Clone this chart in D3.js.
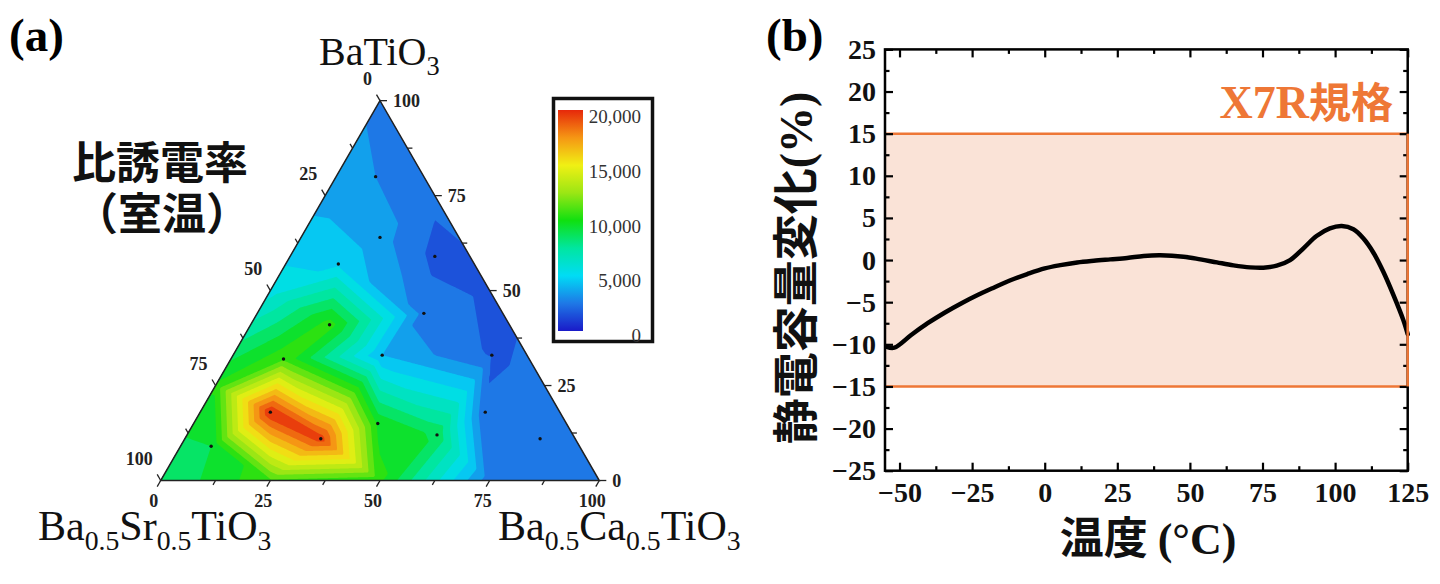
<!DOCTYPE html>
<html>
<head>
<meta charset="utf-8">
<script src="https://cdn.jsdelivr.net/npm/d3@7"></script>
<style>
  body { margin: 0; background: #fff; }
  svg { display: block; }
</style>
</head>
<body>
<svg id="fig" width="1440" height="584"></svg>
<script>
// ---------- (a) ternary map: composition (%) and permittivity at room temperature
var ptBT  = [80, 64, 57, 59, 41, 44, 33, 32, 33, 18, 15, 11, 12, 18, 11, 9];
var ptBST = [11, 18, 31, 8, 41, 18, 33, 56, 8, 66, 43, 58, 31, 17, 8, 84];
var ptBCT = [9, 18, 12, 33, 18, 38, 34, 12, 59, 16, 42, 31, 57, 65, 81, 7];
var ptEps = [3000, 3400, 4800, 1700, 10500, 2600, 4000, 10800, 1900, 20000, 9800, 19600, 8800, 2100, 2300, 9000];

// values read along the triangle edges
var edgeBT  = [100, 75, 50, 25, 0, 0, 0, 0, 0, 25, 50, 75];
var edgeBST = [0, 25, 50, 75, 100, 75, 50, 25, 0, 0, 0, 0];
var edgeBCT = [0, 0, 0, 0, 0, 25, 50, 75, 100, 75, 50, 25];
var edgeEps = [2800, 3600, 5500, 10200, 8000, 10800, 10200, 2400, 2400, 2200, 1800, 2200];

// colour bar
var cbValues = [0, 2500, 5000, 7500, 10000, 12500, 15000, 17500, 20000];
var cbColors = ["#1a1ac8", "#1e78e6", "#00dcf5", "#00e6a0", "#10e010", "#9be614", "#f0f014", "#f59614", "#e6280a"];
var cbTicks = [0, 5000, 10000, 15000, 20000];
var ternTicks = [0, 25, 50, 75, 100];

// ---------- (b) capacitance change vs temperature
var tempC = [-54.4, -51.8, -46, -40.3, -34.5, -28.8, -23.1, -17.4, -11.8, -6, 0, 5.4, 11.2, 16.9, 22.6, 28.4,
             34.1, 39.8, 47.8, 53.6, 59.3, 65, 70.7, 75.3, 79.9, 84.5, 89.1, 93.6, 98.2, 102.3, 106.3, 109.7,
             113.2, 116.6, 120.1, 123.5, 125];
var capChange = [-10.3, -10.4, -8.9, -7.5, -6.25, -5.15, -4.15, -3.25, -2.4, -1.66, -0.99, -0.6, -0.28, -0.08, 0.08, 0.24,
                 0.48, 0.56, 0.4, 0.08, -0.28, -0.63, -0.87, -0.91, -0.67, 0, 1.39, 2.85, 3.76, 4.04, 3.65, 2.58,
                 0.87, -1.39, -4.16, -7.13, -8.8];
var x7rLimits = [-15, 15];

var serif = "'Liberation Serif','Times New Roman',serif";
var cjk = "'Noto Sans CJK JP','Noto Sans CJK SC',sans-serif";

var svg = d3.select("#fig");

// ================= panel (a) =================
var L = 438.6, H = L * Math.sqrt(3) / 2, BL = [160.7, 480.5];
var x0 = BL[0], y0 = BL[1] - H;

function tern(bt, bst, bct) {
    var s = bt + bst + bct;
    bt /= s; bct /= s;
    return [BL[0] + L * (bct + bt / 2), BL[1] - H * bt];
}

var color = d3.scaleLinear().domain(cbValues).range(cbColors).interpolate(d3.interpolateRgb);

// all known points in pixel space
var pts = [], vals = [];
ptBT.forEach(function (d, i) { pts.push(tern(d, ptBST[i], ptBCT[i])); vals.push(ptEps[i]); });
edgeBT.forEach(function (d, i) { pts.push(tern(d, edgeBST[i], edgeBCT[i])); vals.push(edgeEps[i]); });

var delaunay = d3.Delaunay.from(pts);
var tri = delaunay.triangles;

function interp(px, py) {
    for (var k = 0; k < tri.length; k += 3) {
        var a = pts[tri[k]], b = pts[tri[k + 1]], c = pts[tri[k + 2]];
        var det = (b[1] - c[1]) * (a[0] - c[0]) + (c[0] - b[0]) * (a[1] - c[1]);
        if (Math.abs(det) < 1e-9) continue;
        var l1 = ((b[1] - c[1]) * (px - c[0]) + (c[0] - b[0]) * (py - c[1])) / det;
        var l2 = ((c[1] - a[1]) * (px - c[0]) + (a[0] - c[0]) * (py - c[1])) / det;
        var l3 = 1 - l1 - l2;
        if (l1 >= -1e-6 && l2 >= -1e-6 && l3 >= -1e-6) {
            return l1 * vals[tri[k]] + l2 * vals[tri[k + 1]] + l3 * vals[tri[k + 2]];
        }
    }
    return vals[delaunay.find(px, py)];
}

var step = 1.5;
var nx = Math.ceil(L / step) + 2, ny = Math.ceil(H / step) + 2;
var grid = new Array(nx * ny);
for (var j = 0; j < ny; j++) {
    for (var i = 0; i < nx; i++) {
        var px = x0 + i * step, py = y0 + j * step;
        var bt = (BL[1] - py) / H;
        var bct = (px - BL[0]) / L - bt / 2;
        var bst = 1 - bt - bct;
        bt = Math.max(bt, 0); bct = Math.max(bct, 0); bst = Math.max(bst, 0);
        var q = tern(bt, bst, bct);
        grid[j * nx + i] = interp(q[0], q[1]);
    }
}

// levels every 1000, nudged so that no read value sits exactly on a level
var thresholds = d3.range(0, 20001, 1000).map(function (v) { return v + 0.5; });
var contours = d3.contours().size([nx, ny]).thresholds(thresholds)(grid);
var cpath = d3.geoPath(d3.geoIdentity().scale(step).translate([x0 - step / 2, y0 - step / 2]));

var triPts = [tern(100, 0, 0), tern(0, 100, 0), tern(0, 0, 100)];
svg.append("defs").append("clipPath").attr("id", "triClip")
    .append("polygon").attr("points", triPts.map(function (p) { return p.join(","); }).join(" "));

var ternG = svg.append("g");
ternG.append("rect").attr("x", x0).attr("y", y0).attr("width", L).attr("height", H)
    .attr("clip-path", "url(#triClip)").attr("fill", color(500));
ternG.append("g").attr("clip-path", "url(#triClip)")
    .selectAll("path").data(contours).enter().append("path")
    .attr("d", cpath)
    .attr("fill", function (d) { return color(d.value + 500); });

ternG.append("polygon")
    .attr("points", triPts.map(function (p) { return p.join(","); }).join(" "))
    .attr("fill", "none").attr("stroke", "#222").attr("stroke-width", 1.5);

// ternary ticks
var minorT = d3.range(0, 100.1, 12.5);
var tickG = ternG.append("g").attr("stroke", "#222").attr("stroke-width", 1.3);
minorT.forEach(function (v) {
    var len = (v % 25 === 0) ? 7 : 5;
    var pb = tern(0, 100 - v, v);     // bottom: BCT axis
    tickG.append("line").attr("x1", pb[0]).attr("y1", pb[1]).attr("x2", pb[0] - 0.5 * len).attr("y2", pb[1] + 0.866 * len);
    var pr = tern(v, 0, 100 - v);     // right: BT axis
    tickG.append("line").attr("x1", pr[0]).attr("y1", pr[1]).attr("x2", pr[0] + len).attr("y2", pr[1]);
    var pl = tern(100 - v, v, 0);     // left: BST axis
    tickG.append("line").attr("x1", pl[0]).attr("y1", pl[1]).attr("x2", pl[0] - 0.5 * len).attr("y2", pl[1] - 0.866 * len);
});

var lblG = ternG.append("g").attr("font-family", serif).attr("font-weight", "bold")
    .attr("font-size", 18).attr("fill", "#222");
ternTicks.forEach(function (v) {
    var pb = tern(0, 100 - v, v);
    lblG.append("text").attr("x", pb[0] - 7).attr("y", pb[1] + 20).attr("dy", "0.35em")
        .attr("text-anchor", "middle").text(v);
    var pr = tern(v, 0, 100 - v);
    lblG.append("text").attr("x", pr[0] + 13).attr("y", pr[1]).attr("dy", "0.35em")
        .attr("text-anchor", "start").text(v);
    var pl = tern(100 - v, v, 0);
    lblG.append("text").attr("x", pl[0] - 8).attr("y", pl[1] - 22).attr("dy", "0.35em")
        .attr("text-anchor", "end").text(v);
});

// sample points
ternG.append("g").selectAll("circle").data(ptBT).enter().append("circle")
    .attr("cx", function (d, i) { return tern(d, ptBST[i], ptBCT[i])[0]; })
    .attr("cy", function (d, i) { return tern(d, ptBST[i], ptBCT[i])[1]; })
    .attr("r", 1.7).attr("fill", "#111");

// colour bar
var gradId = "cbGrad";
var grad = svg.select("defs").append("linearGradient").attr("id", gradId)
    .attr("x1", 0).attr("y1", 1).attr("x2", 0).attr("y2", 0);
d3.range(0, 20001, 250).forEach(function (v) {
    grad.append("stop").attr("offset", v / 20000).attr("stop-color", color(v));
});
svg.append("rect").attr("x", 553.5).attr("y", 98.5).attr("width", 99).attr("height", 243)
    .attr("fill", "#fff").attr("stroke", "#111").attr("stroke-width", 3.5);
svg.append("rect").attr("x", 558).attr("y", 110).attr("width", 25).attr("height", 221)
    .attr("fill", "url(#" + gradId + ")");
var cbY = d3.scaleLinear().domain([0, 20000]).range([335, 116.7]);
svg.append("g").selectAll("text").data(cbTicks).enter().append("text")
    .attr("x", 641).attr("y", function (d) { return cbY(d); }).attr("dy", "0.35em")
    .attr("text-anchor", "end").attr("font-family", serif).attr("font-size", 19).attr("fill", "#333")
    .text(function (d) { return d3.format(",")(d); });

// panel (a) labels
svg.append("text").attr("x", 9).attr("y", 51).attr("font-family", serif).attr("font-weight", "bold")
    .attr("font-size", 47).text("(a)");

function chemLabel(x, y, parts, size) {
    var t = svg.append("text").attr("x", x).attr("y", y).attr("font-family", serif)
        .attr("font-size", size).attr("fill", "#111");
    parts.forEach(function (p) {
        if (p.sub) {
            t.append("tspan").attr("font-size", size * 0.66).attr("dy", size * 0.24).text(p.t);
        } else {
            t.append("tspan").attr("dy", p.back ? -size * 0.24 : 0).text(p.t);
        }
    });
}
chemLabel(319, 65, [{t: "BaTiO"}, {t: "3", sub: true}], 40);
chemLabel(38, 540, [{t: "Ba"}, {t: "0.5", sub: true}, {t: "Sr", back: true}, {t: "0.5", sub: true},
                    {t: "TiO", back: true}, {t: "3", sub: true}], 42);
chemLabel(498, 540, [{t: "Ba"}, {t: "0.5", sub: true}, {t: "Ca", back: true}, {t: "0.5", sub: true},
                     {t: "TiO", back: true}, {t: "3", sub: true}], 42);

svg.append("text").attr("x", 160).attr("y", 179).attr("text-anchor", "middle")
    .attr("font-family", cjk).attr("font-weight", "bold").attr("font-size", 44).attr("fill", "#111")
    .text("比誘電率");
svg.append("text").attr("x", 162).attr("y", 230).attr("text-anchor", "middle")
    .attr("font-family", cjk).attr("font-weight", "bold").attr("font-size", 44).attr("fill", "#111")
    .text("（室温）");

// ================= panel (b) =================
var x = d3.scaleLinear().domain([-55, 125]).range([885, 1407.7]);
var y = d3.scaleLinear().domain([-25, 25]).range([470.7, 49.4]);
var orange = "#ee7736";

var plotG = svg.append("g");
plotG.append("rect")
    .attr("x", x(-55)).attr("y", y(x7rLimits[1]))
    .attr("width", x(125) - x(-55)).attr("height", y(x7rLimits[0]) - y(x7rLimits[1]))
    .attr("fill", "#fae3d7");
plotG.selectAll(".lim").data(x7rLimits).enter().append("line")
    .attr("x1", x(-55)).attr("x2", x(125))
    .attr("y1", function (d) { return y(d); }).attr("y2", function (d) { return y(d); })
    .attr("stroke", orange).attr("stroke-width", 2.5);

// curve
plotG.append("path")
    .datum(tempC)
    .attr("fill", "none").attr("stroke", "#000").attr("stroke-width", 4.5)
    .attr("stroke-linejoin", "round").attr("stroke-linecap", "round")
    .attr("d", d3.line()
        .x(function (d) { return x(d); })
        .y(function (d, i) { return y(capChange[i]); })
        .curve(d3.curveCatmullRom));

// axes
var xMajor = d3.range(-50, 126, 25), xMinor = d3.range(-37.5, 126, 25);
var yMajor = d3.range(-25, 26, 5), yMinor = d3.range(-22.5, 25, 5);

function styleAxis(g) {
    g.select(".domain").remove();
    g.selectAll("line").attr("stroke", "#000").attr("stroke-width", 2.2);
    g.selectAll("text").attr("font-family", serif).attr("font-weight", "bold").attr("font-size", 28).attr("fill", "#111");
}
plotG.append("g").attr("transform", "translate(0," + y(-25) + ")")
    .call(d3.axisBottom(x).tickValues(xMajor).tickSizeInner(-8).tickSizeOuter(0).tickPadding(11)).call(styleAxis);
plotG.append("g").attr("transform", "translate(0," + y(-25) + ")")
    .call(d3.axisBottom(x).tickValues(xMinor).tickFormat("").tickSizeInner(-4.5).tickSizeOuter(0)).call(styleAxis);
plotG.append("g").attr("transform", "translate(0," + y(25) + ")")
    .call(d3.axisTop(x).tickValues(xMajor).tickFormat("").tickSizeInner(-8).tickSizeOuter(0)).call(styleAxis);
plotG.append("g").attr("transform", "translate(0," + y(25) + ")")
    .call(d3.axisTop(x).tickValues(xMinor).tickFormat("").tickSizeInner(-4.5).tickSizeOuter(0)).call(styleAxis);
plotG.append("g").attr("transform", "translate(" + x(-55) + ",0)")
    .call(d3.axisLeft(y).tickValues(yMajor).tickSizeInner(-8).tickSizeOuter(0).tickPadding(9)).call(styleAxis);
plotG.append("g").attr("transform", "translate(" + x(-55) + ",0)")
    .call(d3.axisLeft(y).tickValues(yMinor).tickFormat("").tickSizeInner(-4.5).tickSizeOuter(0)).call(styleAxis);
plotG.append("g").attr("transform", "translate(" + x(125) + ",0)")
    .call(d3.axisRight(y).tickValues(yMajor).tickFormat("").tickSizeInner(-8).tickSizeOuter(0)).call(styleAxis);
plotG.append("g").attr("transform", "translate(" + x(125) + ",0)")
    .call(d3.axisRight(y).tickValues(yMinor).tickFormat("").tickSizeInner(-4.5).tickSizeOuter(0)).call(styleAxis);

plotG.append("rect")
    .attr("x", x(-55)).attr("y", y(25)).attr("width", x(125) - x(-55)).attr("height", y(-25) - y(25))
    .attr("fill", "none").attr("stroke", "#000").attr("stroke-width", 2.5);
plotG.append("line")
    .attr("x1", x(125)).attr("x2", x(125)).attr("y1", y(x7rLimits[1])).attr("y2", y(x7rLimits[0]))
    .attr("stroke", orange).attr("stroke-width", 2.5);

// panel (b) labels
svg.append("text").attr("x", 766).attr("y", 51).attr("font-family", serif).attr("font-weight", "bold")
    .attr("font-size", 47).text("(b)");

var xl = svg.append("text").attr("x", 1393).attr("y", 118).attr("text-anchor", "end").attr("fill", orange)
    .attr("font-weight", "bold");
xl.append("tspan").attr("font-family", serif).attr("font-size", 46).text("X7R");
xl.append("tspan").attr("font-family", cjk).attr("font-size", 42).text("規格");

var xt = svg.append("text").attr("x", 1148).attr("y", 554).attr("text-anchor", "middle")
    .attr("font-weight", "bold").attr("fill", "#111");
xt.append("tspan").attr("font-family", cjk).attr("font-size", 44).text("温度 ");
xt.append("tspan").attr("font-family", serif).attr("font-size", 44).text("(°C)");

var yt = svg.append("text").attr("transform", "translate(806,268) rotate(-90)")
    .attr("text-anchor", "middle").attr("dy", "0.35em").attr("font-weight", "bold").attr("fill", "#111");
yt.append("tspan").attr("font-family", cjk).attr("font-size", 46).text("静電容量変化");
yt.append("tspan").attr("font-family", serif).attr("font-size", 46).text("(%)");
</script>
</body>
</html>
